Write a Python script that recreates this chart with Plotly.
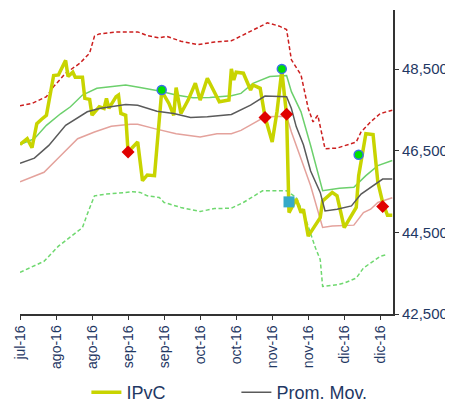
import pandas as pd
import plotly.graph_objects as go

START = pd.Timestamp("2016-07-20")

def to_dates(days):
    return [(START + pd.Timedelta(days=int(d))).strftime("%Y-%m-%d") for d in days]

# IPvC index (day offsets from START, values)
ipvc_day = [0, 3, 5, 7, 9, 11, 14, 16, 19, 20, 22, 23, 26, 27, 29, 30, 33, 35, 36, 37, 40, 41, 42, 44,
            45, 49, 51, 53, 56, 59, 62, 64, 65, 67, 70, 73, 75, 78, 83, 87, 88, 89, 90, 93, 96, 97, 100,
            102, 105, 107, 109, 111, 112, 115, 117, 118, 120, 125, 126, 130, 132, 135, 140, 141, 144,
            147, 149, 151, 153, 155]
ipvc_val = [46655, 46796, 46574, 47166, 47273, 47371, 48344, 48359, 48715, 48319, 48426, 48302, 48302,
            47784, 47759, 47371, 47579, 47537, 47784, 47537, 47826, 47865, 47413, 47371,
            46468, 46715, 45767, 45907, 45890, 47964, 47660, 47371, 48048, 47413, 47742, 48154, 47742,
            48277, 47702, 47742, 48507, 48236, 48426, 48401, 47989, 48112, 48031,
            47332, 46715, 47455, 48460, 47371, 44986, 45315, 44986, 45068, 44409, 44863, 45273, 45480,
            45396, 44616, 45110, 45890, 46920, 46895, 45727, 45233, 44920, 44920]

# Moving average
ma_day = [0, 6, 12, 19, 28, 33, 44, 49, 57, 64, 71, 78, 88, 96, 102, 111, 113, 115, 118, 121, 125, 127,
          132, 138, 142, 146, 151, 155]
ma_val = [46196, 46320, 46631, 47124, 47455, 47537, 47636, 47618, 47470, 47413, 47315, 47332, 47389,
          47618, 47841, 47826, 47537, 47092, 46648, 46006, 45480, 45026, 45068, 45149, 45438, 45604,
          45808, 45808]

# Upper band (solid green)
up1_day = [0, 6, 11, 17, 21, 26, 32, 40, 44, 50, 58, 65, 72, 79, 88, 92, 97, 104, 111, 113, 117, 121,
           126, 133, 139, 144, 149, 155]
up1_val = [46655, 46796, 47124, 47413, 47579, 47865, 48031, 48073, 48112, 48048, 47964, 47865, 47801,
           47808, 47850, 47907, 48154, 48319, 48344, 47949, 47455, 46631, 45520, 45579, 45604, 45890,
           46137, 46260]

# Lower band (solid pink)
lo1_day = [0, 10, 17, 24, 31, 38, 46, 49, 56, 65, 75, 82, 88, 92, 97, 102, 111, 113, 117, 121, 126,
           130, 139, 143, 146, 149, 155]
lo1_val = [45742, 45974, 46384, 46796, 46961, 47100, 47149, 47149, 47043, 46920, 46838, 46920, 46920,
           47001, 47166, 47332, 47347, 46961, 46302, 45643, 44623, 44655, 44678, 44986, 45068, 45233,
           45347]

# Outer upper band (red dashed)
up2_day = [0, 5, 11, 14, 19, 25, 29, 31, 33, 40, 49, 53, 58, 61, 67, 74, 81, 88, 89, 97, 103, 108, 111,
           113, 117, 120, 122, 124, 127, 132, 140, 142, 146, 150, 155]
up2_val = [47603, 47660, 47826, 48073, 48401, 48648, 48895, 49307, 49364, 49413, 49413, 49322, 49265,
           49307, 49184, 49100, 49166, 49198, 49223, 49470, 49635, 49554, 49470, 48729, 48359, 47537,
           47208, 47371, 46549, 46566, 46715, 46961, 47208, 47413, 47495]

# Outer lower band (green dashed)
lo2_day = [0, 10, 16, 26, 28, 31, 36, 47, 50, 53, 58, 60, 67, 75, 81, 88, 93, 101, 111, 115, 119, 123,
           125, 126, 132, 135, 140, 143, 150, 153]
lo2_val = [43520, 43791, 44162, 44616, 44944, 45396, 45438, 45495, 45480, 45396, 45357, 45233, 45110,
           45011, 45085, 45092, 45233, 45520, 45520, 45357, 44821, 44122, 43833, 43174, 43216, 43258,
           43381, 43628, 43915, 43957]

# Signal markers
sell_day = [45, 102, 111, 151]
sell_val = [46468, 47315, 47396, 45134]
buy_day = [59, 109, 141]
buy_val = [47989, 48507, 46401]
sq_day = [112]
sq_val = [45248]

tick_day = [0, 15, 30, 45, 60, 75, 90, 105, 120, 135, 150]
tick_text = ["jul-16", "ago-16", "ago-16", "sep-16", "sep-16", "oct-16", "oct-16",
             "nov-16", "nov-16", "dic-16", "dic-16"]
y_ticks = [42500, 44500, 46500, 48500]

NAVY = "#1F3864"

fig = go.Figure()
fig.add_trace(go.Scatter(x=to_dates(up2_day), y=up2_val, mode="lines", showlegend=False,
                         line=dict(color="#CC1F1F", width=1.5, dash="4px,2.5px")))
fig.add_trace(go.Scatter(x=to_dates(lo2_day), y=lo2_val, mode="lines", showlegend=False,
                         line=dict(color="#6FD86F", width=1.5, dash="4px,2.5px")))
fig.add_trace(go.Scatter(x=to_dates(up1_day), y=up1_val, mode="lines", showlegend=False,
                         line=dict(color="#6CD06C", width=1.5)))
fig.add_trace(go.Scatter(x=to_dates(lo1_day), y=lo1_val, mode="lines", showlegend=False,
                         line=dict(color="#E4A29C", width=1.5)))
fig.add_trace(go.Scatter(x=to_dates(ipvc_day), y=ipvc_val, mode="lines", name="IPvC",
                         line=dict(color="#C8D400", width=3.5)))
fig.add_trace(go.Scatter(x=to_dates(ma_day), y=ma_val, mode="lines", name="Prom. Mov.",
                         line=dict(color="#5A5A5A", width=1.5)))
fig.add_trace(go.Scatter(x=to_dates(sell_day), y=sell_val, mode="markers", showlegend=False,
                         marker=dict(symbol="diamond", size=10, color="#E00000")))
fig.add_trace(go.Scatter(x=to_dates(buy_day), y=buy_val, mode="markers", showlegend=False,
                         marker=dict(symbol="circle", size=9, color="#00E000",
                                     line=dict(color="#3A6FE8", width=1.5))))
fig.add_trace(go.Scatter(x=to_dates(sq_day), y=sq_val, mode="markers", showlegend=False,
                         marker=dict(symbol="square", size=11, color="#35AAC8")))

fig.update_layout(
    width=445, height=396,
    margin=dict(l=12, r=60, t=2, b=90, autoexpand=False),
    paper_bgcolor="white", plot_bgcolor="white",
    font=dict(family="Liberation Sans, Arial, sans-serif", color=NAVY),
    showlegend=True,
    legend=dict(orientation="h", x=0.178, xanchor="left", y=-0.258, yanchor="middle",
                font=dict(size=18, color=NAVY), entrywidth=105, entrywidthmode="pixels",
                bgcolor="rgba(0,0,0,0)"),
    xaxis=dict(
        range=[to_dates([0])[0], (START + pd.Timedelta(days=155.3)).strftime("%Y-%m-%d %H:%M")],
        tickvals=to_dates(tick_day), ticktext=tick_text, tickangle=-90,
        tickfont=dict(size=14, color=NAVY), automargin=False,
        showline=True, linecolor="#333333", linewidth=1.5,
        ticks="outside", ticklen=4, tickcolor="#333333",
        showgrid=False, zeroline=False,
    ),
    yaxis=dict(
        side="right", range=[42500, 49950], tickvals=y_ticks, tickformat=",",
        tickfont=dict(size=15, color=NAVY), automargin=False,
        showline=True, linecolor="#333333", linewidth=2,
        ticks="outside", ticklen=4, tickcolor="#333333",
        showgrid=False, zeroline=False,
    ),
)

fig.write_html("out.html")
